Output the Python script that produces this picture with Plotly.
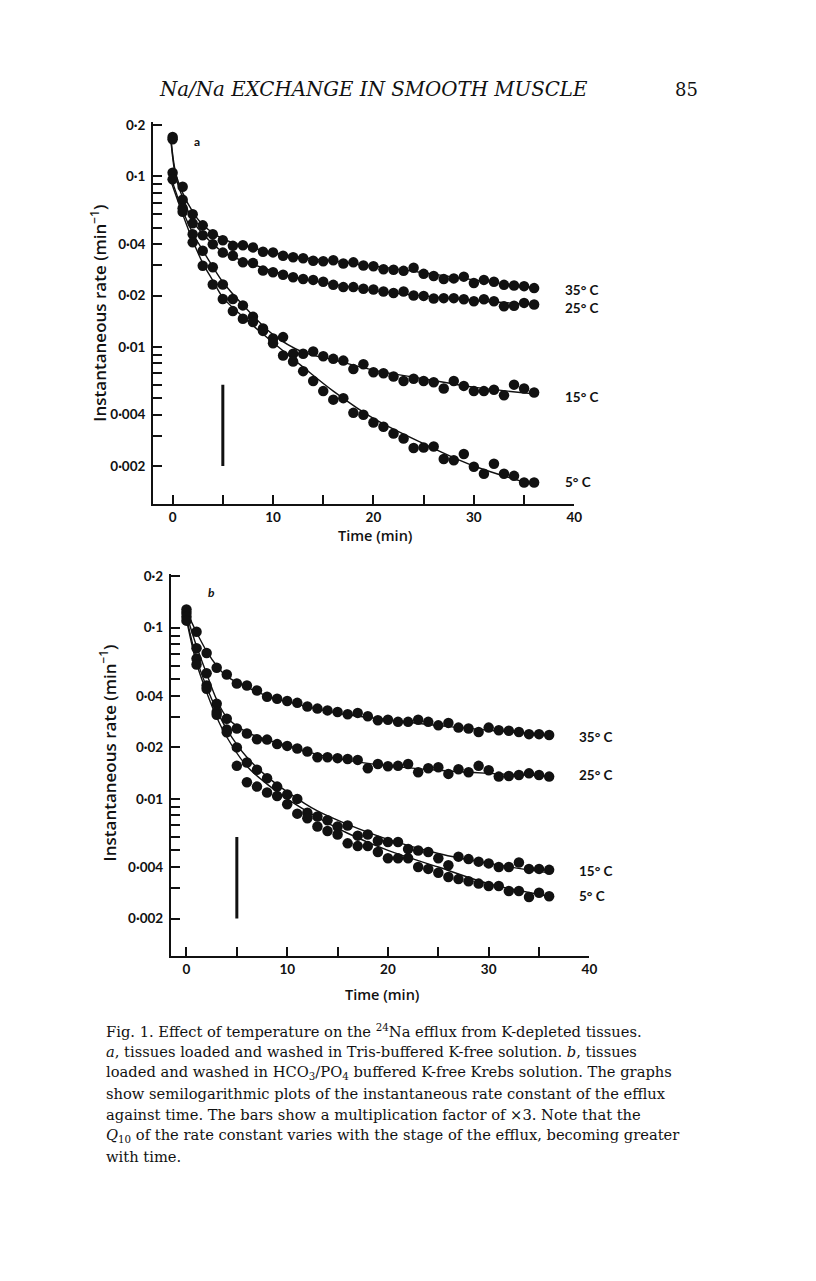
import plotly.graph_objects as go

# page body has an 8 px margin; figure sized so the page fits the 816x1281 window
OFF = 8
W, H = 816 - 2 * OFF, 1281 - 2 * OFF

# ---------------- data ----------------
T = list(range(37))  # time (min)

# panel a: Tris-buffered K-free solution
A35 = [0.17, 0.087, 0.060, 0.0516, 0.0457, 0.0422, 0.0391, 0.0394, 0.0383, 0.0361,
       0.0358, 0.0342, 0.0335, 0.0331, 0.0320, 0.0318, 0.0322, 0.0308, 0.0313, 0.0300,
       0.0297, 0.0285, 0.0283, 0.0279, 0.0291, 0.0268, 0.0260, 0.0250, 0.0252, 0.0258,
       0.0237, 0.0247, 0.0241, 0.0231, 0.0229, 0.0227, 0.0221]
A25 = [0.165, 0.073, 0.053, 0.0451, 0.040, 0.0357, 0.0342, 0.0313, 0.0310, 0.0280,
       0.0274, 0.0265, 0.0256, 0.0250, 0.0247, 0.0241, 0.0231, 0.0224, 0.0224, 0.0219,
       0.0217, 0.0211, 0.0207, 0.0211, 0.0200, 0.0199, 0.0192, 0.0193, 0.0193, 0.0190,
       0.0185, 0.0190, 0.0185, 0.0173, 0.0174, 0.0181, 0.0177]
A15 = [0.105, 0.065, 0.0457, 0.0366, 0.0293, 0.0232, 0.0191, 0.0175, 0.0150, 0.0128,
       0.0112, 0.0114, 0.0091, 0.0091, 0.0094, 0.0088, 0.0085, 0.0083, 0.0074, 0.0079,
       0.0071, 0.0070, 0.0067, 0.0063, 0.0065, 0.0063, 0.0062, 0.0057, 0.0063, 0.0059,
       0.0055, 0.0055, 0.0056, 0.0052, 0.0060, 0.0057, 0.0054]
A5 = [0.096, 0.062, 0.041, 0.0299, 0.0232, 0.0191, 0.0162, 0.0146, 0.0140, 0.0124,
      0.0105, 0.0089, 0.0082, 0.0072, 0.0063, 0.0055, 0.0049, 0.0050, 0.0041, 0.0040,
      0.0036, 0.0034, 0.0031, 0.0029, 0.00255, 0.00257, 0.0026, 0.0022, 0.00216, 0.00235,
      0.00198, 0.0018, 0.00206, 0.0018, 0.00175, 0.0016, 0.0016]

# fitted curves, panel a
FA_T = [-0.2, 0.3, 1, 2, 3, 5, 8, 12, 16, 20, 25, 30, 36]
FA35 = [0.175, 0.105, 0.080, 0.062, 0.052, 0.043, 0.038, 0.034, 0.0318, 0.0298, 0.0272, 0.0247, 0.0222]
FA25 = [0.170, 0.100, 0.075, 0.055, 0.046, 0.036, 0.0305, 0.0258, 0.0233, 0.0214, 0.0199, 0.0187, 0.0177]
FA_T2 = [-0.2, 1, 2, 3, 4, 5, 7, 10, 13, 16, 20, 25, 30, 36]
FA15 = [0.100, 0.063, 0.0465, 0.0368, 0.0295, 0.0240, 0.0176, 0.0118, 0.0093, 0.0084, 0.0073, 0.0065, 0.0058, 0.0053]
FA5 = [0.095, 0.060, 0.042, 0.031, 0.0245, 0.0195, 0.0150, 0.0106, 0.0076, 0.0055, 0.0038, 0.0027, 0.0020, 0.00155]

# panel b: HCO3/PO4 buffered K-free Krebs solution
B35 = [0.128, 0.0948, 0.0712, 0.0584, 0.0533, 0.0472, 0.046, 0.043, 0.0395, 0.0385,
       0.0373, 0.0364, 0.0347, 0.0337, 0.0329, 0.0322, 0.0312, 0.0318, 0.0304, 0.0288,
       0.0290, 0.0282, 0.0282, 0.0290, 0.0282, 0.0269, 0.0278, 0.0261, 0.0258, 0.0246,
       0.0261, 0.0252, 0.0250, 0.0246, 0.0239, 0.0239, 0.0236]
B25 = [0.122, 0.076, 0.0542, 0.036, 0.0294, 0.0258, 0.0241, 0.0223, 0.0222, 0.0209,
       0.0204, 0.0197, 0.0189, 0.0175, 0.0175, 0.0173, 0.0171, 0.0169, 0.0151, 0.0160,
       0.0155, 0.0156, 0.0160, 0.0143, 0.0151, 0.0153, 0.0140, 0.0149, 0.0143, 0.0156,
       0.0147, 0.0135, 0.0136, 0.0138, 0.0141, 0.0138, 0.0135]
B15 = [0.116, 0.066, 0.046, 0.0322, 0.0254, 0.0200, 0.0163, 0.0148, 0.0132, 0.0118,
       0.0106, 0.0100, 0.0083, 0.0079, 0.0075, 0.0069, 0.0070, 0.0061, 0.0062, 0.0057,
       0.0056, 0.0056, 0.0051, 0.0050, 0.0049, 0.0045, 0.0041, 0.0046, 0.00445, 0.0043,
       0.0042, 0.0040, 0.0040, 0.00425, 0.0039, 0.0039, 0.00385]
B5 = [0.110, 0.061, 0.044, 0.031, 0.0245, 0.0156, 0.0125, 0.0118, 0.0109, 0.0104,
      0.0093, 0.0082, 0.0077, 0.0069, 0.0065, 0.0062, 0.0055, 0.0053, 0.0053, 0.0049,
      0.0045, 0.0045, 0.0045, 0.0040, 0.0039, 0.0037, 0.0035, 0.0034, 0.0033, 0.0032,
      0.0031, 0.0031, 0.0029, 0.0029, 0.00267, 0.00283, 0.0027]

FB_T = [0, 1, 2, 3, 4, 6, 8, 10, 13, 16, 20, 25, 30, 36]
FB35 = [0.125, 0.094, 0.073, 0.060, 0.052, 0.045, 0.040, 0.037, 0.0335, 0.031, 0.029, 0.0268, 0.0252, 0.0236]
FB25 = [0.120, 0.078, 0.054, 0.038, 0.030, 0.0245, 0.0222, 0.0205, 0.0182, 0.0168, 0.0156, 0.0147, 0.0141, 0.0136]
FB15 = [0.115, 0.066, 0.045, 0.033, 0.0255, 0.0175, 0.0135, 0.0110, 0.0085, 0.0071, 0.0058, 0.0048, 0.0042, 0.0037]
FB5 = [0.112, 0.062, 0.042, 0.030, 0.0230, 0.0155, 0.0122, 0.0100, 0.0078, 0.0063, 0.0050, 0.0040, 0.0032, 0.0027]

BAR_T = [5, 5]          # bar showing multiplication factor x3
BAR_V = [0.002, 0.006]

Y_MAJOR = [0.2, 0.1, 0.04, 0.02, 0.01, 0.004, 0.002]
Y_LABELS = ["0·2", "0·1", "0·04", "0·02", "0·01", "0·004", "0·002"]
Y_MINOR = [0.09, 0.08, 0.07, 0.06, 0.05, 0.03, 0.009, 0.008, 0.007, 0.006, 0.005, 0.003]
X_MAJOR = [0, 10, 20, 30, 40]
X_LABELS = ["0", "10", "20", "30", "40"]
X_MINOR = [5, 15, 25, 35]
TEMPS = ["35° C", "25° C", "15° C", "5° C"]

# ---------------- figure ----------------
def fx(p):
    return (p - OFF) / W

def fy(p):
    return 1 - (p - OFF) / H

AX = "#111"
SANS = "Lato"
TSANS = "Open Sans"
SERIF = "DejaVu Serif"

fig = go.Figure()

def add_panel(xa, ya, series, fits_t, fits):
    for ft, fv in zip(fits_t, fits):
        fig.add_trace(go.Scatter(x=ft, y=fv, mode="lines", xaxis=xa, yaxis=ya,
                                 line=dict(color=AX, width=1.4, shape="spline", smoothing=1.0),
                                 hoverinfo="skip", showlegend=False))
    for s in series:
        fig.add_trace(go.Scatter(x=T, y=s, mode="markers", xaxis=xa, yaxis=ya,
                                 marker=dict(color=AX, size=10.5, line=dict(width=0)),
                                 showlegend=False))
    fig.add_trace(go.Scatter(x=BAR_T, y=BAR_V, mode="lines", xaxis=xa, yaxis=ya,
                             line=dict(color=AX, width=3), showlegend=False))

add_panel("x", "y", [A35, A25, A15, A5], [FA_T, FA_T, FA_T2, FA_T2], [FA35, FA25, FA15, FA5])
add_panel("x2", "y2", [B35, B25, B15, B5], [FB_T] * 4, [FB35, FB25, FB15, FB5])

tick_font = dict(family=SANS, size=13.5, color=AX, weight=700)

def xaxis(domain, rng, anchor):
    return dict(domain=domain, range=rng, anchor=anchor, showgrid=False, zeroline=False,
                showline=True, linecolor=AX, linewidth=2, ticks="inside", ticklen=9,
                tickwidth=2, tickcolor=AX, tickvals=X_MAJOR, ticktext=X_LABELS,
                tickfont=tick_font,
                minor=dict(tickvals=X_MINOR, ticks="inside", ticklen=9, tickwidth=2, tickcolor=AX))

def yaxis(domain, rng, anchor):
    return dict(domain=domain, range=rng, anchor=anchor, type="log", showgrid=False,
                zeroline=False, showline=True, linecolor=AX, linewidth=2, ticks="inside",
                ticklen=9, tickwidth=1.6, tickcolor=AX, tickvals=Y_MAJOR, ticktext=Y_LABELS,
                tickfont=tick_font, ticklabelstandoff=3,
                minor=dict(tickvals=Y_MINOR, ticks="inside", ticklen=9, tickwidth=1.6, tickcolor=AX))

ann = []

def text(x, y, s, size=13, family=SANS, weight=700, anchor="center", angle=0, italic=False):
    ann.append(dict(x=fx(x), y=fy(y), xref="paper", yref="paper", text=s, showarrow=False,
                    xanchor=anchor, yanchor="middle", textangle=angle,
                    font=dict(family=family, size=size, color=AX, weight=weight,
                              style="italic" if italic else "normal")))

# header
text(377, 84, "Na/Na EXCHANGE IN SMOOTH MUSCLE", size=19.8, family=SERIF, weight=400, italic=True)
text(693, 84, "85", size=18, family=SERIF, weight=400)

# panel a
text(199, 136, "a", size=12)
text(99, 309, "Instantaneous rate (min<sup>−1</sup>)", size=17, family=TSANS, weight=600, angle=-90)
text(379, 532, "Time (min)", size=14.5, family=TSANS, weight=600)
for lbl, yy in zip(TEMPS, [285, 303, 393, 478]):
    text(569, yy, lbl, size=13.5, anchor="left")

# panel b
text(214, 589, "b", size=12, italic=True)
text(109, 750, "Instantaneous rate (min<sup>−1</sup>)", size=17, family=TSANS, weight=600, angle=-90)
text(386, 993, "Time (min)", size=14.5, family=TSANS, weight=600)
for lbl, yy in zip(TEMPS, [734, 773, 869, 894]):
    text(583, yy, lbl, size=13.5, anchor="left")

# caption
CAPTION = [
    "Fig. 1. Effect of temperature on the <sup>24</sup>Na efflux from K-depleted tissues.",
    "<i>a</i>, tissues loaded and washed in Tris-buffered K-free solution. <i>b</i>, tissues",
    "loaded and washed in HCO<sub>3</sub>/PO<sub>4</sub> buffered K-free Krebs solution. The graphs",
    "show semilogarithmic plots of the instantaneous rate constant of the efflux",
    "against time. The bars show a multiplication factor of ×3. Note that the",
    "<i>Q</i><sub>10</sub> of the rate constant varies with the stage of the efflux, becoming greater",
    "with time.",
]
for i, line in enumerate(CAPTION):
    text(105, 1029 + 21.2 * i, line, size=14.7, family=SERIF, weight=400, anchor="left")

fig.update_layout(
    width=W, height=H, margin=dict(l=0, r=0, t=0, b=0),
    paper_bgcolor="white", plot_bgcolor="white", showlegend=False,
    xaxis=xaxis([fx(154.5), fx(580)], [-1.95, 40], "y"),
    yaxis=yaxis([fy(500), fy(117)], [-2.92, -0.684], "x"),
    xaxis2=xaxis([fx(172.5), fx(595.3)], [-1.55, 40], "y2"),
    yaxis2=yaxis([fy(954.7), fy(571)], [-2.919, -0.688], "x2"),
    annotations=ann,
)

fig.write_html("out.html")
